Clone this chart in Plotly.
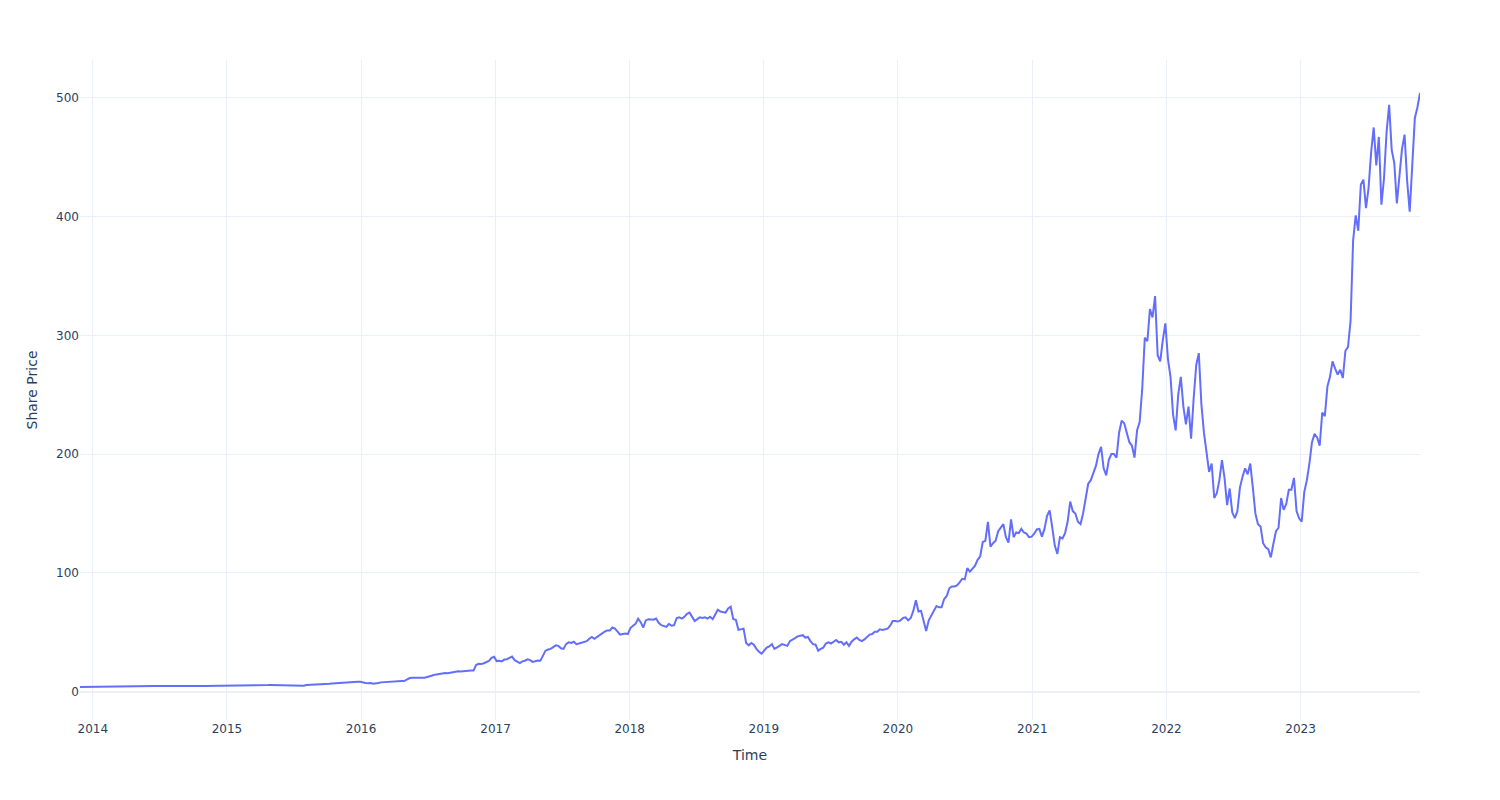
import pandas as pd
import plotly.express as px

# Weekly share price readings (Wednesday of each week)
price_2013 = [3.90, 3.95, 3.90, 3.90, 4.00, 4.00]
price_2014 = [3.95, 3.95, 3.95, 3.90, 4.05, 4.30, 4.55, 4.50, 4.65, 4.60, 4.55, 4.55, 4.45,
              4.55, 4.50, 4.60, 4.60, 4.70, 4.75, 4.70, 4.75, 4.75, 4.80, 4.80, 4.70, 4.65,
              4.60, 4.45, 4.40, 4.40, 4.55, 4.65, 4.70, 4.80, 4.75, 4.80, 4.70, 4.60, 4.55,
              4.50, 4.30, 4.55, 4.75, 4.80, 4.95, 5.10, 5.20, 5.10, 5.00, 5.05, 5.05, 5.00]
price_2015 = [4.95, 4.95, 5.05, 5.00, 5.05, 5.25, 5.45, 5.55, 5.40, 5.30, 5.40, 5.30, 5.20,
              5.25, 5.30, 5.50, 5.60, 5.55, 5.40, 5.45, 5.50, 5.35, 5.25, 5.15, 5.00, 5.00,
              4.95, 5.05, 5.00, 5.05, 5.60, 5.70, 5.40, 5.65, 5.70, 5.85, 6.05, 6.15, 6.15,
              6.55, 6.85, 7.00, 7.10, 7.35, 7.90, 8.00, 8.15, 8.30, 8.10, 8.10, 8.25, 8.25]
price_2016 = [7.55, 7.20, 7.05, 7.30, 6.60, 6.75, 7.35, 7.80, 8.00, 8.35, 8.65, 8.85, 8.85,
              9.15, 9.20, 9.05, 8.90, 10.30, 11.20, 11.60, 11.70, 11.65, 11.80, 11.45, 11.70,
              12.30, 13.30, 13.60, 14.30, 14.60, 15.40, 15.60, 15.60, 15.40, 15.90, 16.50,
              16.80, 17.10, 16.90, 17.20, 17.20, 17.50, 17.70, 17.70, 22.40, 23.40, 23.20,
              23.90, 25.00, 25.90, 28.50, 29.30]
price_2017 = [25.7, 26.0, 25.5, 27.0, 27.3, 28.5, 29.5, 26.5, 25.0, 24.0, 25.5, 26.0, 27.2,
              26.5, 25.0, 25.5, 26.2, 26.0, 30.5, 34.5, 35.5, 36.0, 37.5, 39.0, 38.5, 36.5,
              36.0, 40.0, 41.5, 41.0, 42.0, 40.0, 40.5, 41.0, 42.0, 42.5, 44.5, 46.0, 44.5,
              46.0, 48.0, 49.0, 50.5, 51.5, 51.5, 54.0, 53.0, 50.5, 48.0, 48.5, 49.0, 48.5]
price_2018 = [53.5, 55.5, 57.0, 61.5, 58.5, 54.0, 60.0, 61.0, 60.5, 60.5, 61.5, 58.0, 56.0,
              55.0, 54.5, 57.0, 55.5, 56.0, 62.0, 62.5, 61.5, 63.0, 65.5, 66.5, 63.0, 59.5,
              61.0, 62.5, 62.0, 62.5, 61.5, 63.0, 61.0, 64.5, 69.0, 67.5, 67.0, 66.5, 70.0,
              71.5, 61.0, 60.5, 52.0, 52.5, 53.0, 41.0, 39.0, 41.0, 39.5, 36.0, 33.5, 32.0,
              35.0]
price_2019 = [37.0, 38.0, 40.0, 36.0, 37.0, 38.5, 40.0, 39.5, 38.5, 42.5, 43.5, 45.0, 46.5,
              47.0, 47.5, 45.5, 46.0, 42.5, 40.0, 39.5, 34.5, 36.0, 37.0, 40.5, 41.5, 40.5,
              42.0, 43.5, 41.5, 42.0, 39.5, 41.5, 38.5, 42.0, 44.0, 45.5, 43.5, 42.5, 44.0,
              46.0, 48.0, 48.5, 50.5, 50.5, 52.5, 52.0, 52.5, 53.0, 55.5, 59.5, 59.5, 59.0]
price_2020 = [60.0, 62.0, 62.5, 60.0, 62.0, 68.0, 77.0, 67.5, 68.0, 60.0, 51.0, 60.0, 64.0,
              67.0, 72.0, 71.0, 71.0, 78.0, 80.5, 87.0, 88.5, 88.5, 89.5, 92.0, 95.0, 94.5,
              104.0, 101.0, 104.0, 106.0, 111.0, 114.0, 126.0, 127.0, 143.0, 122.0, 125.0,
              127.0, 135.0, 138.5, 141.0, 130.0, 125.5, 145.0, 130.0, 134.0, 133.5, 137.0,
              134.0, 133.0, 130.0, 130.5]
price_2021 = [133.0, 136.5, 137.0, 130.5, 137.0, 148.0, 152.5, 138.5, 123.0, 116.0, 130.0,
              129.0, 133.5, 143.0, 160.0, 152.0, 150.0, 143.0, 141.0, 150.0, 162.0, 175.0,
              178.0, 184.0, 190.0, 200.0, 206.0, 188.0, 182.0, 195.0, 200.0, 200.0, 197.0,
              218.0, 228.0, 226.0, 219.0, 210.0, 207.0, 197.0, 220.0, 227.0, 255.0, 298.0,
              295.0, 322.0, 315.0, 333.0, 283.0, 278.0, 296.0, 310.0]
price_2022 = [280.0, 265.0, 233.0, 220.0, 250.0, 265.0, 240.0, 225.0, 240.0, 213.0, 247.0,
              275.0, 285.0, 242.0, 218.0, 202.0, 185.0, 192.0, 163.0, 167.0, 178.0, 195.0,
              180.0, 157.0, 171.0, 151.0, 146.0, 152.0, 172.0, 181.0, 188.0, 183.0, 192.0,
              172.0, 150.0, 141.0, 139.0, 125.0, 121.5, 120.0, 113.0, 124.5, 135.0, 138.0,
              163.0, 153.0, 158.0, 170.0, 170.0, 180.0, 152.0, 146.0]
price_2023 = [143.0, 168.0, 178.0, 192.0, 210.0, 217.0, 214.0, 207.0, 235.0, 232.0, 257.0,
              265.0, 278.0, 272.0, 267.0, 271.0, 264.0, 287.0, 290.0, 312.0, 380.0, 401.0,
              388.0, 427.0, 431.0, 407.0, 424.0, 454.0, 475.0, 443.0, 467.0, 410.0, 432.0,
              471.0, 494.0, 456.0, 445.0, 411.0, 435.0, 457.0, 469.0, 430.0, 404.0, 450.0,
              483.0, 492.0, 504.0]

prices = (price_2013 + price_2014 + price_2015 + price_2016 + price_2017 + price_2018
          + price_2019 + price_2020 + price_2021 + price_2022 + price_2023)
dates = pd.date_range("2013-11-27", periods=len(prices), freq="W-WED")

df = pd.DataFrame({"Time": dates, "Share Price": prices})

fig = px.line(df, x="Time", y="Share Price", template="plotly_white")

# page has an 8px body margin, so trim the figure margins to keep the plot box in place
fig.update_layout(
    font=dict(family="DejaVu Sans"),
    margin=dict(l=72, r=72, t=52, b=72),
)

fig.write_html("out.html")
